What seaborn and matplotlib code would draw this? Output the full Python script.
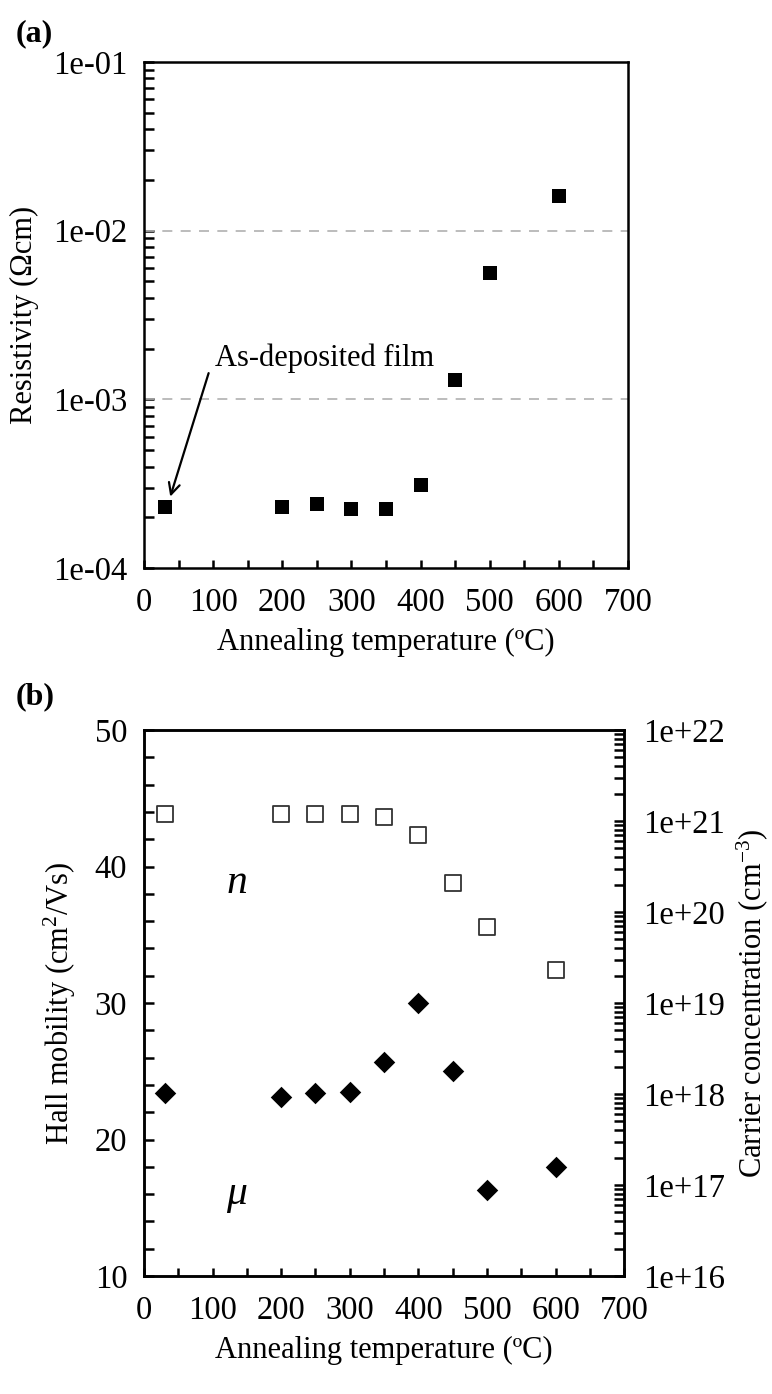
import numpy as np
import pandas as pd
import matplotlib
matplotlib.use("Agg")
import matplotlib.pyplot as plt
from matplotlib.ticker import MultipleLocator, LogLocator, FuncFormatter, NullFormatter
import seaborn as sns

# ---- data ----
temp_a = [30, 200, 250, 300, 350, 400, 450, 500, 600]
resistivity = [2.3e-4, 2.3e-4, 2.4e-4, 2.25e-4, 2.25e-4, 3.1e-4, 1.3e-3, 5.6e-3, 1.6e-2]

temp_b = [30, 200, 250, 300, 350, 400, 450, 500, 600]
mobility = [23.4, 23.1, 23.4, 23.5, 25.7, 30.0, 25.0, 16.3, 18.0]
carrier = [1.2e21, 1.2e21, 1.2e21, 1.2e21, 1.1e21, 7.0e20, 2.1e20, 6.9e19, 2.3e19]

sns.set_theme(style="ticks")
plt.rcParams['font.family'] = ['Liberation Serif', 'DejaVu Serif']
plt.rcParams['mathtext.fontset'] = 'custom'
plt.rcParams['mathtext.rm'] = 'Liberation Serif'
plt.rcParams['mathtext.it'] = 'Liberation Serif:italic'
for k in ['text.color', 'axes.labelcolor', 'xtick.color', 'ytick.color', 'axes.edgecolor']:
    plt.rcParams[k] = 'black'

FT = 23.5   # tick labels
FL = 22     # axis labels
fig = plt.figure(figsize=(7.72, 13.94), dpi=100)
axa = fig.add_axes([0.1865, 0.5925, 0.627, 0.363])
axb = fig.add_axes([0.1865, 0.0846, 0.622, 0.3917])

def logfmt(v, pos):
    return f"{v:.0e}"

def style_ax(ax):
    for s in ax.spines.values():
        s.set_linewidth(1.8)
        s.set_color('black')
    ax.set_xlim(0, 700)
    ax.xaxis.set_major_locator(MultipleLocator(100))
    ax.xaxis.set_minor_locator(MultipleLocator(50))
    ax.tick_params(axis='x', which='both', direction='in', length=6, width=1.8,
                   labelsize=FT, pad=14, top=False)
    ax.set_xlabel("Annealing temperature (ºC)", fontsize=FL, labelpad=7)

# ---- panel (a) ----
dfa = pd.DataFrame({"T": temp_a, "rho": resistivity})
sns.scatterplot(data=dfa, x="T", y="rho", ax=axa, marker="s", s=90,
                color="black", edgecolor="black", linewidth=0, zorder=3)
axa.set_yscale("log")
axa.set_ylim(1e-4, 1e-1)
style_ax(axa)
axa.yaxis.set_major_locator(LogLocator(base=10, numticks=10))
axa.yaxis.set_minor_locator(LogLocator(base=10, subs=np.arange(2, 10), numticks=20))
axa.yaxis.set_major_formatter(FuncFormatter(logfmt))
axa.yaxis.set_minor_formatter(NullFormatter())
axa.tick_params(axis='y', which='both', direction='in', length=7, width=1.8,
                labelsize=FT, pad=12, right=False)
for g in [1e-2, 1e-3]:
    axa.axhline(g, color='#b0b0b0', lw=1.2, ls=(0, (6, 5)), zorder=1)
axa.set_ylabel("Resistivity (Ωcm)", fontsize=FL, labelpad=10)
axa.annotate("As-deposited film", xy=(38, 2.65e-4), xytext=(103, 1.75e-3),
             fontsize=FL, ha='left', va='center',
             arrowprops=dict(arrowstyle='->', color='black', lw=1.6,
                             mutation_scale=20, shrinkA=0, shrinkB=0,
                             relpos=(-0.03, 0.0)))
fig.text(0.02, 0.976, "(a)", fontsize=FL + 1, fontweight='bold', va='center')

# ---- panel (b) ----
dfb = pd.DataFrame({"T": temp_b, "mu": mobility, "n": carrier})
sns.scatterplot(data=dfb, x="T", y="mu", ax=axb, marker="D", s=120,
                color="black", edgecolor="black", linewidth=0, zorder=3)
axb.set_ylim(10, 50)
style_ax(axb)
axb.yaxis.set_major_locator(MultipleLocator(10))
axb.yaxis.set_minor_locator(MultipleLocator(2))
axb.tick_params(axis='y', which='both', direction='in', length=7, width=1.8,
                labelsize=FT, pad=12, right=False)
axb.set_ylabel("Hall mobility (cm$^{2}$/Vs)", fontsize=FL, labelpad=12)

ax2 = axb.twinx()
sns.scatterplot(data=dfb, x="T", y="n", ax=ax2, marker="s", s=140,
                facecolor="white", edgecolor="#333333", linewidth=1.3, zorder=3)
ax2.set_yscale("log")
ax2.set_ylim(1e16, 1e22)
for s in ax2.spines.values():
    s.set_linewidth(1.8)
    s.set_color('black')
ax2.yaxis.set_major_locator(LogLocator(base=10, numticks=10))
ax2.yaxis.set_minor_locator(LogLocator(base=10, subs=np.arange(2, 10), numticks=20))
ax2.yaxis.set_major_formatter(FuncFormatter(logfmt))
ax2.yaxis.set_minor_formatter(NullFormatter())
ax2.tick_params(axis='y', which='both', direction='in', length=7, width=1.8,
                labelsize=FT, pad=14)
ax2.set_ylabel("Carrier concentration (cm$^{-3}$)", fontsize=FL, labelpad=6)
ax2.set_xlim(0, 700)

axb.text(135, 38.8, "n", fontsize=FL + 8, style='italic', ha='center', va='center')
axb.text(135, 16.0, "μ", fontsize=FL + 8, style='italic', ha='center', va='center')
fig.text(0.02, 0.50, "(b)", fontsize=FL + 1, fontweight='bold', va='center')

fig.savefig("out.png", dpi=100)
